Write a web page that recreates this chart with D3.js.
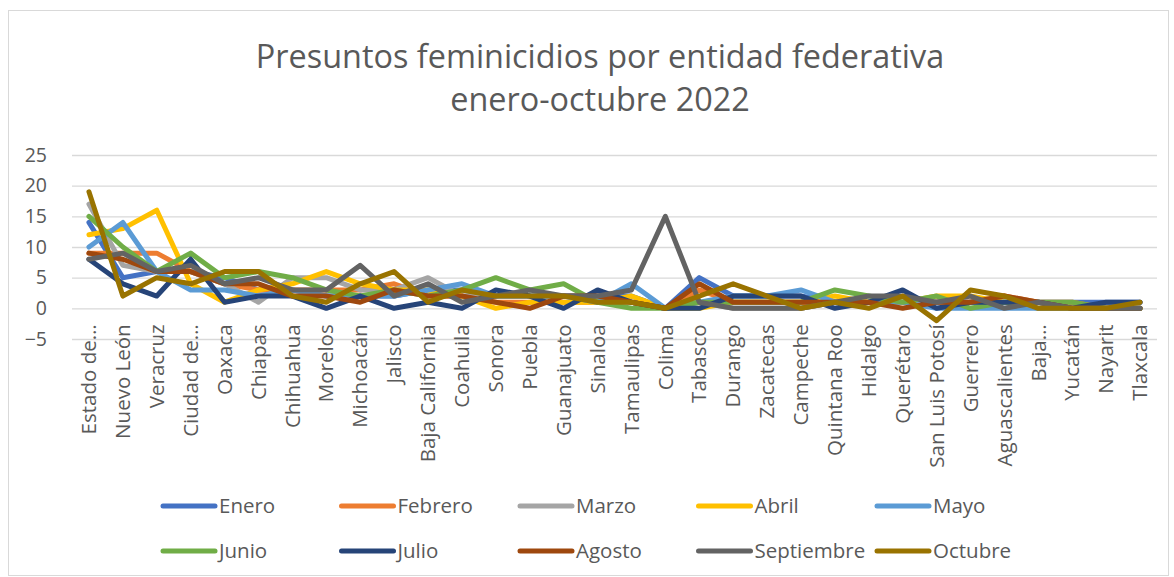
<!DOCTYPE html>
<html><head><meta charset="utf-8">
<script src="https://cdn.jsdelivr.net/npm/d3@7"></script>
<style>
html,body{margin:0;padding:0;background:#fff;}
svg{display:block;font-family:"Open Sans",sans-serif;}
</style></head>
<body><svg id="c" width="1174" height="577"></svg>
<script>
const categories = ["Estado de…","Nuevo León","Veracruz","Ciudad de…","Oaxaca","Chiapas","Chihuahua","Morelos","Michoacán","Jalisco","Baja California","Coahuila","Sonora","Puebla","Guanajuato","Sinaloa","Tamaulipas","Colima","Tabasco","Durango","Zacatecas","Campeche","Quintana Roo","Hidalgo","Querétaro","San Luis Potosí","Guerrero","Aguascalientes","Baja…","Yucatán","Nayarit","Tlaxcala"];
const seriesNames = ["Enero","Febrero","Marzo","Abril","Mayo","Junio","Julio","Agosto","Septiembre","Octubre"];
const enero      = [14,5,6,6,5,3,3,2,2,2,3,3,2,2,2,2,2,0,5,2,2,2,1,1,1,1,1,1,1,1,1,1];
const febrero    = [9,9,9,6,4,3,3,3,3,4,2,2,1,1,1,1,1,0,3,1,1,1,1,1,1,1,1,2,1,1,0,0];
const marzo      = [17,7,6,6,4,1,5,5,3,3,5,2,2,2,2,1,1,0,1,0,0,0,1,1,1,1,1,1,0,0,0,0];
const abril      = [12,13,16,4,1,3,4,6,4,3,3,2,0,1,1,1,2,0,0,1,1,1,2,1,1,2,2,1,0,0,0,0];
const mayo       = [10,14,6,3,3,2,3,2,2,2,3,4,2,2,2,1,4,0,1,2,2,3,1,1,1,0,0,0,0,0,0,0];
const junio      = [15,10,6,9,5,6,5,3,2,3,2,3,5,3,4,1,0,0,1,1,1,1,3,2,1,2,0,1,1,1,0,0];
const julio      = [8,4,2,8,1,2,2,0,2,0,1,0,3,2,0,3,1,0,0,2,2,2,0,1,3,0,1,1,1,0,1,1];
const agosto     = [9,8,6,6,4,4,2,2,1,3,2,2,1,0,2,2,1,0,4,1,1,1,1,1,0,1,1,2,1,0,0,0];
const septiembre = [8,9,6,7,4,5,3,3,7,2,4,1,2,3,2,2,3,15,1,0,0,0,1,2,2,1,2,0,1,0,0,0];
const octubre    = [19,2,5,4,6,6,2,1,4,6,1,3,2,2,2,1,1,0,2,4,2,0,1,0,2,-2,3,2,0,0,0,1];
const yTicks = [-5,0,5,10,15,20,25];
const colors = ["#4472C4","#ED7D31","#A5A5A5","#FFC000","#5B9BD5","#70AD47","#264478","#9E480E","#636363","#997300"];
const titleLines = ["Presuntos feminicidios por entidad federativa","enero-octubre 2022"];

const seriesValues = [enero,febrero,marzo,abril,mayo,junio,julio,agosto,septiembre,octubre];
const svg = d3.select("#c");
const textColor = "#595959";

svg.append("rect").attr("x",8.5).attr("y",10.5).attr("width",1160).attr("height",565)
  .attr("fill","#fff").attr("stroke","#D9D9D9").attr("stroke-width",1);

const plot = {left:72, right:1157, top:155, bottom:339};
const x = d3.scaleBand().domain(categories).range([plot.left, plot.right]);
const y = d3.scaleLinear().domain([-5,25]).range([plot.bottom, plot.top]);

// title
svg.append("g").selectAll("text").data(titleLines).join("text")
  .attr("x",600).attr("y",(d,i)=>68+i*43).attr("text-anchor","middle")
  .attr("font-size",32.4).attr("fill",textColor).text(d=>d);

// grid + y axis
const yAxis = d3.axisLeft(y).tickValues(yTicks).tickSize(-(plot.right-plot.left)).tickPadding(25);
const gy = svg.append("g").attr("transform",`translate(${plot.left},0)`).call(yAxis);
gy.select(".domain").remove();
gy.selectAll(".tick line").attr("stroke","#D9D9D9").attr("stroke-width",1.3);
gy.selectAll(".tick text").attr("font-size",19.5).attr("fill",textColor).attr("font-family","Open Sans");

// x axis labels
const xAxis = d3.axisBottom(x).tickSize(0).tickPadding(0);
const gx = svg.append("g").attr("transform",`translate(0,${y(0)})`).call(xAxis);
gx.select(".domain").remove();
gx.selectAll(".tick text")
  .attr("font-size",20.5).attr("fill",textColor).attr("font-family","Open Sans")
  .attr("text-anchor","end").attr("transform","rotate(-90)")
  .attr("x",-16).attr("y",0).attr("dy","0.35em");

// lines
const line = d3.line().x((d,i)=>x(categories[i])+x.bandwidth()/2).y(d=>y(d));
svg.append("g").selectAll("path").data(seriesValues).join("path")
  .attr("d",d=>line(d)).attr("fill","none")
  .attr("stroke",(d,i)=>colors[i]).attr("stroke-width",5)
  .attr("stroke-linejoin","round").attr("stroke-linecap","round");

// legend
const lg = svg.append("g");
seriesNames.forEach((n,i)=>{
  const col = i%5, row = Math.floor(i/5);
  const lx = 161 + col*178.5, ly = 506 + row*45;
  lg.append("line").attr("x1",lx+2).attr("x2",lx+54).attr("y1",ly).attr("y2",ly)
    .attr("stroke",colors[i]).attr("stroke-width",5).attr("stroke-linecap","round");
  lg.append("text").attr("x",lx+58).attr("y",ly).attr("dy","0.35em")
    .attr("font-size",20.5).attr("fill",textColor).text(n);
});
</script></body></html>
